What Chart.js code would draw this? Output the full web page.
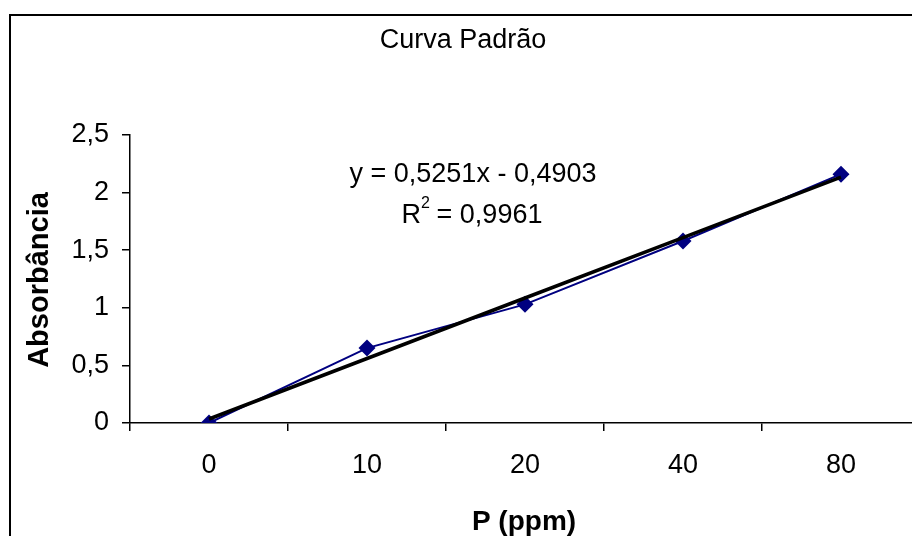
<!DOCTYPE html>
<html>
<head>
<meta charset="utf-8">
<script src="https://cdn.jsdelivr.net/npm/chart.js@4/dist/chart.umd.min.js"></script>
<style>
  body { margin: 0; overflow: hidden; background: #fff; }
  #ctx { position: absolute; left: 0; top: 0; }
</style>
</head>
<body>
<canvas id="ctx" width="920" height="560"></canvas>
<script>
const categories = ['0', '10', '20', '40', '80'];
const absorbancia = [0, 0.65, 1.03, 1.58, 2.16];
// linha de tendência: y = 0,5251x - 0,4903 (x = 1..5)
const tendencia = [0.0348, 0.5599, 1.085, 1.6101, 2.1352];
const yTicks = [0, 0.5, 1, 1.5, 2, 2.5];

const fontName = '"Liberation Sans", Arial, sans-serif';

const textos = {
    id: 'textos',
    beforeDraw(chart) {
        const c = chart.ctx;
        c.save();
        c.strokeStyle = '#000';
        c.lineWidth = 2;
        c.strokeRect(10, 15, 1000, 1000);
        c.restore();
    },
    afterDraw(chart) {
        const c = chart.ctx;
        c.save();
        c.fillStyle = '#000';
        c.textAlign = 'center';
        c.textBaseline = 'middle';
        c.font = '27px ' + fontName;
        c.fillText('Curva Padrão', 463, 41);
        c.fillText('y = 0,5251x - 0,4903', 473, 175);
        c.textAlign = 'left';
        let w = c.measureText('R = 0,9961').width;
        let x0 = 472 - w / 2 - 4;
        c.fillText('R', x0, 216);
        let rw = c.measureText('R').width;
        c.font = '16px ' + fontName;
        c.fillText('2', x0 + rw, 204);
        c.font = '27px ' + fontName;
        c.fillText(' = 0,9961', x0 + rw + 8, 216);

        c.font = 'bold 28px ' + fontName;
        c.textAlign = 'center';
        c.fillText('P (ppm)', 524, 522);
        c.translate(40, 280);
        c.rotate(-Math.PI / 2);
        c.font = 'bold 29px ' + fontName;
        c.fillText('Absorbância', 0, 0);
        c.restore();
    }
};

new Chart(document.getElementById('ctx'), {
    type: 'line',
    data: {
        labels: categories,
        datasets: [{
            label: 'tendência',
            data: tendencia,
            borderColor: '#000',
            borderWidth: 3.5,
            pointRadius: 0,
            fill: false,
            order: 0
        }, {
            label: 'Absorbância',
            data: absorbancia,
            borderColor: '#000080',
            backgroundColor: '#000080',
            borderWidth: 2,
            pointStyle: 'rectRot',
            pointRadius: 8.5,
            pointBorderWidth: 0,
            fill: false,
            order: 1
        }]
    },
    options: {
        responsive: false,
        animation: false,
        layout: { autoPadding: false, padding: { top: 135, left: 0, right: 0, bottom: 0 } },
        plugins: {
            legend: { display: false },
            tooltip: { enabled: false },
            title: { display: false }
        },
        scales: {
            x: {
                type: 'category',
                offset: true,
                grid: { offset: true, drawOnChartArea: false, tickLength: 8, color: '#000', lineWidth: 1.5 },
                border: { color: '#000', width: 1.5 },
                ticks: { color: '#000', padding: 18, font: { family: fontName, size: 27 }, maxRotation: 0 },
                afterFit(s) { s.height = 560 - 423; }
            },
            y: {
                min: 0,
                max: 2.5,
                afterBuildTicks(s) { s.ticks = yTicks.map(v => ({ value: v })); },
                grid: { drawOnChartArea: false, tickLength: 8, color: '#000', lineWidth: 1.5 },
                border: { color: '#000', width: 1.5 },
                ticks: {
                    color: '#000',
                    padding: 13,
                    font: { family: fontName, size: 27 },
                    callback: v => String(v).replace('.', ',')
                },
                afterFit(s) { s.width = 130; }
            }
        }
    },
    plugins: [textos]
});
</script>
</body>
</html>
